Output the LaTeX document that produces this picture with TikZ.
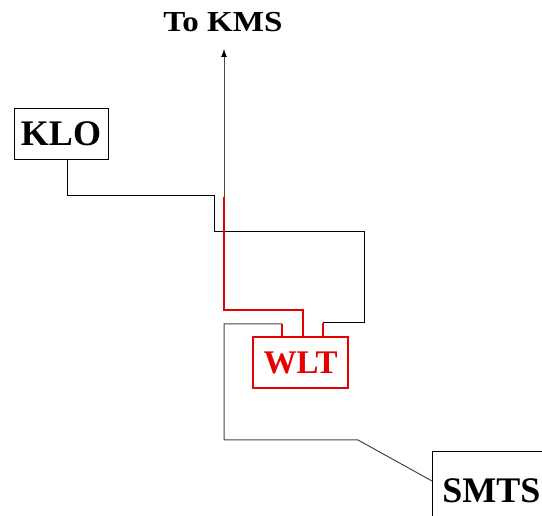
\documentclass[tikz,border=0pt]{standalone}
\usepackage{fontspec}
\setmainfont{Liberation Serif}
\usetikzlibrary{calc,arrows.meta}
\definecolor{wirered}{RGB}{230,0,0}
\definecolor{wiregray}{RGB}{70,70,70}
\begin{document}
\begin{tikzpicture}[x=1pt,y=-1pt,
  unitbox/.style={draw=black,line width=0.9pt,inner sep=0pt,font=\fontsize{36}{40}\selectfont\bfseries},
  redbox/.style={draw=wirered,line width=2.6pt,inner sep=0pt,text=wirered,font=\fontsize{33}{38}\selectfont\bfseries},
  wire/.style={draw=wiregray,line width=1pt},
  redwire/.style={draw=wirered,line width=2.6pt}]
\clip (0,0) rectangle (542,516);
% units
\node[unitbox,minimum width=94pt,minimum height=51pt] (KLO) at (61,133.5) {KLO};
\node[redbox,minimum width=95pt,minimum height=51pt] (WLT) at (300.5,362.5) {WLT};
\node[unitbox,anchor=north west,inner xsep=10pt,text width=93pt,minimum height=79pt] (SMTS) at (432,451) {SMTS};
\node[font=\fontsize{29}{33}\selectfont\bfseries] (KMS) at (223,22) {\scalebox{1.14}[1]{To KMS}};
% junction points
\coordinate (tip) at (224,49);
\coordinate (j) at (224,197);
\coordinate (rr) at (323,323);
\coordinate (rl) at (282,324);
\coordinate (sk) at (358,440);
\coordinate (se) at (432,481);
% KLO feed
\draw[wire,draw=black] ($(KLO.south)+(6,0)$) |- (214,196) |- (364,232) |- (rr);
\draw[redwire] (rr) -- (rr |- WLT.north);
% line towards KMS
\draw[wire,-{Latex[length=8pt,width=6pt,black]}] (j) -- (tip);
\draw[redwire] (j) |- (303,310) -- (303,0 |- WLT.north);
% SMTS feed
\draw[wire] (rl) -- (224,324) |- (sk) -- (se);
\draw[redwire] (rl) -- (rl |- WLT.north);
\end{tikzpicture}
\end{document}
